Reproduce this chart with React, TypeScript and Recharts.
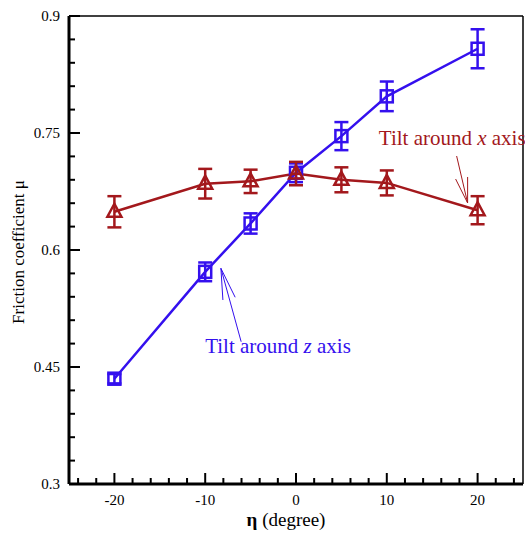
import React from 'react'
import {
  ComposedChart, Line, XAxis, YAxis, ErrorBar, ReferenceLine, ReferenceDot,
} from 'recharts'

// tilt around z axis (blue squares)
const zAngles = [-20, -10, -5, 0, 5, 10, 20]
const zMu = [0.435, 0.572, 0.634, 0.699, 0.746, 0.797, 0.858]
const zErr = [0.006, 0.012, 0.013, 0.012, 0.018, 0.019, 0.025]

// tilt around x axis (red triangles)
const xAngles = [-20, -10, -5, 0, 5, 10, 20]
const xMu = [0.649, 0.685, 0.688, 0.698, 0.69, 0.686, 0.651]
const xErr = [0.02, 0.019, 0.015, 0.015, 0.016, 0.016, 0.018]

const xMajor = [-20, -10, 0, 10, 20]
const yMajor = [0.3, 0.45, 0.6, 0.75, 0.9]
const yLabels = ['0.3', '0.45', '0.6', '0.75', '0.9']

const xTicks = Array.from({ length: 25 }, (_, i) => -24 + i * 2)
const yTicks = Array.from({ length: 21 }, (_, i) => Math.round((0.3 + i * 0.03) * 1000) / 1000)

const BLUE = '#3410ee'
const RED = '#a3181c'
const FONT = '"Liberation Serif", "Times New Roman", serif'
const serif = { fontFamily: FONT }

const zData = zAngles.map((a, i) => ({ a, mu: zMu[i], err: zErr[i] }))
const xData = xAngles.map((a, i) => ({ a, mu: xMu[i], err: xErr[i] }))

const Square = (p: any) => (
  <rect x={p.cx - 6} y={p.cy - 6} width={12} height={12} fill="none" stroke={BLUE} strokeWidth={2.5} />
)
const Triangle = (p: any) => (
  <polygon
    points={`${p.cx},${p.cy - 8} ${p.cx - 7},${p.cy + 5} ${p.cx + 7},${p.cy + 5}`}
    fill="none" stroke={RED} strokeWidth={2.5}
  />
)

const XTick = (p: any) => {
  const v = p.payload.value
  const major = xMajor.includes(v)
  return (
    <g>
      <line x1={p.x} x2={p.x} y1={p.y} y2={p.y - (major ? 11 : 6)} stroke="#000" strokeWidth={2} />
      {major && (
        <text x={p.x} y={p.y + 21} textAnchor="middle" fontSize={15} style={serif} fill="#000">{v}</text>
      )}
    </g>
  )
}

const YTick = (p: any) => {
  const v = p.payload.value
  const idx = yMajor.findIndex((m) => Math.abs(m - v) < 1e-6)
  const major = idx >= 0
  return (
    <g>
      <line x1={p.x} x2={p.x + (major ? 11 : 6)} y1={p.y} y2={p.y} stroke="#000" strokeWidth={2} />
      {major && (
        <text x={p.x - 9} y={p.y + 5} textAnchor="end" fontSize={15} style={serif} fill="#000">{yLabels[idx]}</text>
      )}
    </g>
  )
}

const noteText = (color: string, letter: string) => (p: any) => (
  <text x={p.cx} y={p.cy} fontSize={21} style={serif} fill={color}>
    Tilt around <tspan fontStyle="italic">{letter}</tspan> axis
  </text>
)

const App: React.FC = () => {
  return (
    <div style={{ position: 'absolute', left: 0, top: 0, width: 525, height: 534, background: '#fff' }}>
      <ComposedChart width={525} height={534} margin={{ top: 15, right: 1, bottom: 49, left: 68 }}>
        <XAxis
          dataKey="a" type="number" domain={[-25, 25]} ticks={xTicks} interval={0}
          height={1} tickSize={0} tickMargin={0} tick={<XTick />}
          axisLine={{ stroke: '#000', strokeWidth: 3 }} tickLine={false} allowDataOverflow
        />
        <XAxis
          xAxisId="top" orientation="top" type="number" domain={[-25, 25]} height={1}
          tick={false} tickLine={false} axisLine={{ stroke: '#000', strokeWidth: 1.5 }}
        />
        <YAxis
          type="number" domain={[0.3, 0.9]} ticks={yTicks} interval={0}
          width={1} tickSize={0} tickMargin={0} tick={<YTick />}
          axisLine={{ stroke: '#000', strokeWidth: 3 }} tickLine={false} allowDataOverflow
        />
        <YAxis
          yAxisId="right" orientation="right" type="number" domain={[0.3, 0.9]} width={1}
          tick={false} tickLine={false} axisLine={{ stroke: '#000', strokeWidth: 1.5 }}
        />

        <Line
          data={zData} dataKey="mu" stroke={BLUE} strokeWidth={2.5} dot={<Square />}
          activeDot={false} isAnimationActive={false} type="linear"
        >
          <ErrorBar dataKey="err" width={7} stroke={BLUE} strokeWidth={2.5} direction="y" />
        </Line>
        <Line
          data={xData} dataKey="mu" stroke={RED} strokeWidth={2.5} dot={<Triangle />}
          activeDot={false} isAnimationActive={false} type="linear"
        >
          <ErrorBar dataKey="err" width={7} stroke={RED} strokeWidth={2.5} direction="y" />
        </Line>

        {/* arrow: tilt around x */}
        <ReferenceLine segment={[{ x: 17.69, y: 0.7205 }, { x: 18.9, y: 0.6603 }]} stroke={RED} strokeWidth={1} />
        <ReferenceLine segment={[{ x: 17.58, y: 0.691 }, { x: 18.9, y: 0.6603 }]} stroke={RED} strokeWidth={1} />
        <ReferenceLine segment={[{ x: 18.9, y: 0.6936 }, { x: 18.9, y: 0.6603 }]} stroke={RED} strokeWidth={1} />
        {/* arrow: tilt around z */}
        <ReferenceLine segment={[{ x: -6.04, y: 0.4824 }, { x: -8.27, y: 0.5765 }]} stroke={BLUE} strokeWidth={1} />
        <ReferenceLine segment={[{ x: -8.05, y: 0.5359 }, { x: -8.27, y: 0.5765 }]} stroke={BLUE} strokeWidth={1} />
        <ReferenceLine segment={[{ x: -6.7, y: 0.5394 }, { x: -8.27, y: 0.5765 }]} stroke={BLUE} strokeWidth={1} />

        <ReferenceDot x={9.12} y={0.7346} r={0} shape={noteText(RED, 'x')} />
        <ReferenceDot x={-10.0} y={0.468} r={0} shape={noteText(BLUE, 'z')} />

        <text x={18} y={252} transform="rotate(-90 18 252)" textAnchor="middle" dominantBaseline="central"
          fontSize={17} style={serif} fill="#000">
          Friction coefficient μ
        </text>
        <text x={286} y={526} textAnchor="middle" fontSize={19} style={serif} fill="#000">
          <tspan fontWeight="bold">η</tspan> (degree)
        </text>
      </ComposedChart>
    </div>
  )
}

export default App
